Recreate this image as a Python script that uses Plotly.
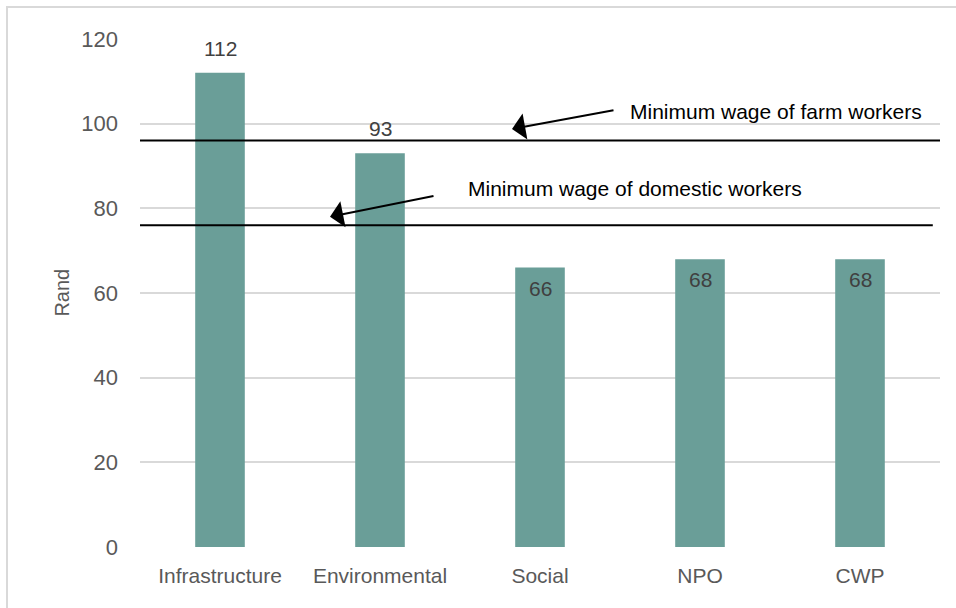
import plotly.graph_objects as go

# Daily wage by programme type (Rand)
categories = ["Infrastructure", "Environmental", "Social", "NPO", "CWP"]
wages = [112, 93, 66, 68, 68]

# Reference minimum wages (Rand per day)
farm_min_wage = 96
domestic_min_wage = 76

bar_color = "#6a9e98"
grid_color = "#d9d9d9"
label_color = "#595959"
value_color = "#404040"
font_family = "Liberation Sans, Arial, sans-serif"

fig = go.Figure()
fig.add_trace(go.Bar(
    x=categories,
    y=wages,
    marker=dict(color=bar_color, line=dict(width=0)),
    width=0.31,
    hoverinfo="x+y",
))

# Value labels: above the bar when it clears the reference lines, inside the top otherwise
annotations = []
for cat, val in zip(categories, wages):
    outside = val > 90
    annotations.append(dict(
        x=cat, y=val, xref="x", yref="y",
        text=str(val), showarrow=False,
        yanchor="bottom" if outside else "top",
        yshift=11 if outside else -7,
        font=dict(family=font_family, size=21, color=value_color),
    ))

# Arrows pointing at the minimum wage lines
annotations += [
    dict(x=0.465, y=0.823, xref="paper", yref="paper", text="",
         showarrow=True, arrowhead=1, arrowsize=2.2, arrowwidth=2,
         arrowcolor="black", ax=103, ay=-19, axref="pixel", ayref="pixel"),
    dict(x=0.2375, y=0.65, xref="paper", yref="paper", text="",
         showarrow=True, arrowhead=1, arrowsize=2.2, arrowwidth=2,
         arrowcolor="black", ax=105, ay=-21, axref="pixel", ayref="pixel"),
    dict(x=0.61, y=0.858, xref="paper", yref="paper", xanchor="left", yanchor="middle",
         text="Minimum wage of farm workers", showarrow=False,
         font=dict(family=font_family, size=21, color="black")),
    dict(x=0.4075, y=0.705, xref="paper", yref="paper", xanchor="left", yanchor="middle",
         text="Minimum wage of domestic workers", showarrow=False,
         font=dict(family=font_family, size=21, color="black")),
    dict(x=-0.098, y=0.5, xref="paper", yref="paper", text="Rand", textangle=-90,
         showarrow=False, xanchor="center", yanchor="middle",
         font=dict(family=font_family, size=20, color=label_color)),
]

shapes = [
    # Minimum wage reference lines
    dict(type="line", xref="paper", yref="y", x0=0, x1=1,
         y0=farm_min_wage, y1=farm_min_wage, line=dict(color="black", width=2)),
    dict(type="line", xref="paper", yref="y", x0=0, x1=0.991,
         y0=domestic_min_wage, y1=domestic_min_wage, line=dict(color="black", width=2)),
    # Chart frame
    dict(type="rect", xref="paper", yref="paper", x0=-0.16625, x1=1.03,
         y0=-0.13, y1=1.063, line=dict(color=grid_color, width=2), layer="below"),
]

fig.update_layout(
    width=956, height=608,
    margin=dict(l=140, r=16, t=39, b=61),
    paper_bgcolor="white", plot_bgcolor="white",
    showlegend=False,
    font=dict(family=font_family, size=20, color=label_color),
    annotations=annotations,
    shapes=shapes,
    bargap=0.69,
)
fig.update_xaxes(
    showgrid=False, showline=False, zeroline=False, ticks="",
    tickfont=dict(family=font_family, size=21, color=label_color),
    ticklabelstandoff=14,
)
fig.update_yaxes(
    range=[0, 120], dtick=20, showgrid=True, gridcolor=grid_color, gridwidth=2,
    zeroline=True, zerolinecolor="white", zerolinewidth=2,
    showline=False, ticks="",
    tickfont=dict(family=font_family, size=22, color=label_color),
    ticklabelstandoff=21,
)

fig.write_html("out.html")
